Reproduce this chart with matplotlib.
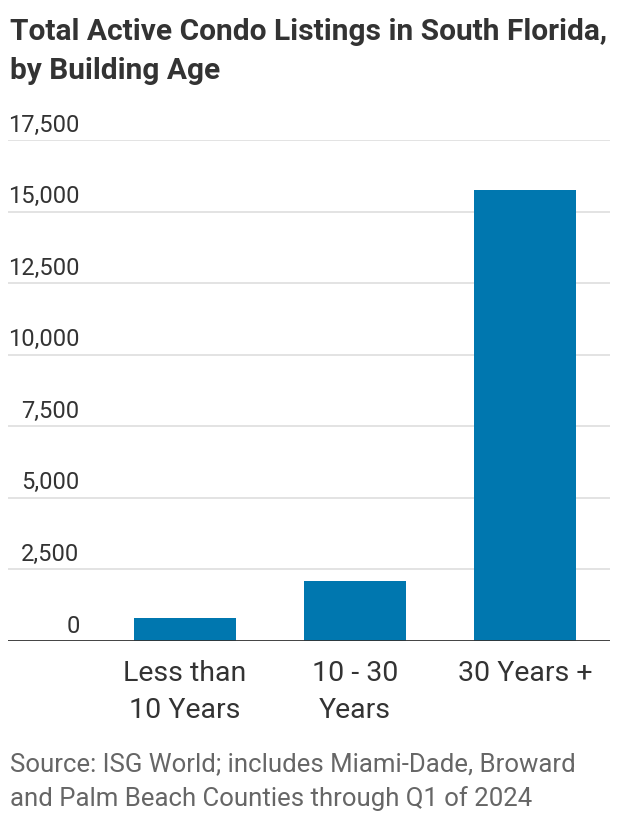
import matplotlib
matplotlib.use("Agg")
import matplotlib.pyplot as plt
from matplotlib import font_manager

# data
categories = ["Less than\n10 Years", "10 - 30\nYears", "30 Years +"]
listings = [810, 2080, 15750]
yticks = [0, 2500, 5000, 7500, 10000, 12500, 15000, 17500]

names = {f.name for f in font_manager.fontManager.ttflist}
narrow = "Liberation Sans Narrow" if "Liberation Sans Narrow" in names else "Roboto"
plt.rcParams["font.family"] = [narrow, "DejaVu Sans"]

BLUE = "#0077af"
DARK = "#333333"

fig = plt.figure(figsize=(6.24, 8.34), dpi=100)
ax = fig.add_axes([0.013, 0.2314, 0.965, 0.6006])

x = list(range(len(categories)))
ax.bar(x, listings, width=0.6, color=BLUE, zorder=3)

ax.set_xlim(-1.04, 2.5)
ax.set_ylim(0, 17500)
ax.set_yticks(yticks)
ax.set_yticklabels([])
ax.tick_params(axis="y", length=0)
ax.grid(axis="y", color="#e0e0e0", linewidth=1.3, zorder=0)
ax.axhline(0, color=DARK, linewidth=2, zorder=4)

# y labels sit inside the axes just above each gridline, right-aligned
for v in yticks:
    ax.text(-0.62, v + 120, f"{v:,}", ha="right", va="bottom",
            fontsize=17, color=DARK)

ax.set_xticks(x)
ax.set_xticklabels(categories, fontsize=20.5, color=DARK, linespacing=1.45)
ax.tick_params(axis="x", length=0, pad=14)

for s in ax.spines.values():
    s.set_visible(False)

fig.text(0.016, 0.978, "Total Active Condo Listings in South Florida,\nby Building Age",
         ha="left", va="top", fontsize=21.5, fontweight="bold", color=DARK,
         linespacing=1.5)

fig.text(0.016, 0.028, "Source: ISG World; includes Miami-Dade, Broward\n"
         "and Palm Beach Counties through Q1 of 2024",
         ha="left", va="bottom", fontsize=18.5, color="#666666", linespacing=1.5)

fig.savefig("out.png", dpi=100)
